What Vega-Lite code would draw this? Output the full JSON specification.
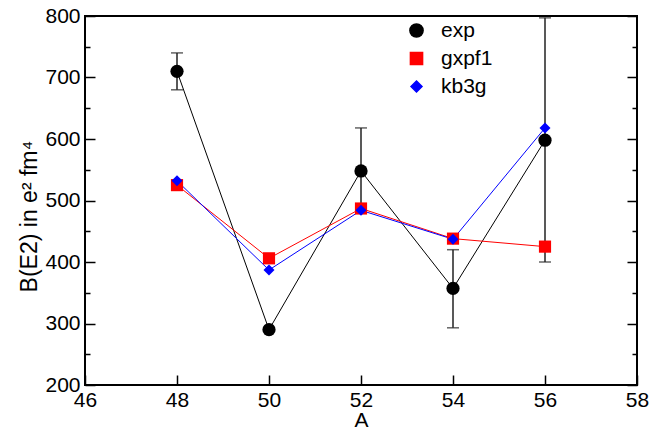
{
  "$schema": "https://vega.github.io/schema/vega-lite/v6.json",
  "autosize": "none",
  "width": 552,
  "height": 369,
  "padding": {"left": 85, "top": 16, "right": 15, "bottom": 47},
  "background": "white",
  "data": {
    "values": [
      {"A": 48, "series": "exp", "value": 710, "lo": 680, "hi": 740},
      {"A": 50, "series": "exp", "value": 290},
      {"A": 52, "series": "exp", "value": 548, "lo": 485, "hi": 618},
      {"A": 54, "series": "exp", "value": 357, "lo": 293, "hi": 420},
      {"A": 56, "series": "exp", "value": 598, "lo": 400, "hi": 797},
      {"A": 48, "series": "gxpf1", "value": 525},
      {"A": 50, "series": "gxpf1", "value": 406},
      {"A": 52, "series": "gxpf1", "value": 487},
      {"A": 54, "series": "gxpf1", "value": 438},
      {"A": 56, "series": "gxpf1", "value": 425},
      {"A": 48, "series": "kb3g", "value": 532},
      {"A": 50, "series": "kb3g", "value": 387},
      {"A": 52, "series": "kb3g", "value": 484},
      {"A": 54, "series": "kb3g", "value": 437},
      {"A": 56, "series": "kb3g", "value": 618}
    ]
  },
  "layer": [
    {
      "transform": [{"filter": "isValid(datum.lo)"}],
      "mark": {"type": "errorbar", "color": "#222", "thickness": 1.5, "ticks": {"size": 12, "thickness": 1.5}},
      "encoding": {
        "x": {"field": "A", "type": "quantitative", "scale": {"domain": [46, 58], "nice": false, "zero": false}},
        "y": {"field": "lo", "type": "quantitative", "scale": {"domain": [200, 800], "nice": false, "zero": false}, "axis": null},
        "y2": {"field": "hi"}
      }
    },
    {
      "mark": {"type": "line", "strokeWidth": 1},
      "encoding": {
        "x": {
          "field": "A", "type": "quantitative",
          "scale": {"domain": [46, 58], "nice": false, "zero": false},
          "axis": {
            "title": "A",
            "titleFontSize": 21,
            "values": [46, 48, 50, 52, 54, 56, 58],
            "labelFlush": false,
            "labelOverlap": false,
            "ticks": true,
            "tickSize": -10,
            "labelPadding": 14,
            "titlePadding": -1,
            "zindex": 1
          }
        },
        "y": {
          "field": "value", "type": "quantitative",
          "scale": {"domain": [200, 800], "nice": false, "zero": false},
          "axis": {
            "title": "B(E2) in e² fm⁴",
            "titleFontSize": 23,
            "orient": "left",
            "values": [200, 300, 400, 500, 600, 700, 800],
            "labelOverlap": false,
            "labelFlush": false,
            "ticks": true,
            "tickSize": -10,
            "labelPadding": 15,
            "titleX": -44,
            "titleY": 200,
            "grid": true,
            "gridColor": "black",
            "gridWidth": 1.5,
            "gridOpacity": 1,
            "gridDash": [0, 542, 10, 1000],
            "zindex": 1
          }
        },
        "color": {
          "field": "series", "type": "nominal",
          "scale": {"domain": ["exp", "gxpf1", "kb3g"], "range": ["black", "red", "blue"]},
          "legend": {
            "title": null,
            "orient": "none",
            "legendX": 321,
            "legendY": 4,
            "padding": 0,
            "symbolSize": 170,
            "labelFont": "Liberation Sans",
            "labelFontSize": 21,
            "labelColor": "black",
            "labelOffset": 14,
            "rowPadding": 6
          }
        }
      }
    },
    {
      "mark": {"type": "point", "filled": true, "opacity": 1},
      "encoding": {
        "x": {"field": "A", "type": "quantitative", "scale": {"domain": [46, 58], "nice": false, "zero": false}},
        "y": {
          "field": "value", "type": "quantitative",
          "scale": {"domain": [200, 800], "nice": false, "zero": false},
          "axis": {
            "orient": "right",
            "title": null,
            "labels": false,
            "ticks": false,
            "values": [250, 350, 450, 550, 650, 750],
            "grid": true,
            "gridColor": "black",
            "gridWidth": 1.5,
            "gridOpacity": 1,
            "gridDash": [5, 542, 5, 1000],
            "zindex": 1
          }
        },
        "color": {"field": "series", "type": "nominal"},
        "shape": {
          "field": "series", "type": "nominal",
          "scale": {"domain": ["exp", "gxpf1", "kb3g"], "range": ["circle", "square", "diamond"]},
          "legend": null
        },
        "size": {
          "field": "series", "type": "nominal",
          "scale": {"domain": ["exp", "gxpf1", "kb3g"], "range": [175, 121, 180]},
          "legend": null
        }
      }
    }
  ],
  "config": {
    "view": {"stroke": "black", "strokeWidth": 2},
    "axis": {
      "labelFont": "Liberation Sans",
      "titleFont": "Liberation Sans",
      "labelFontSize": 21,
      "titleFontSize": 23,
      "titleFontWeight": "normal",
      "labelColor": "black",
      "titleColor": "black",
      "tickColor": "black",
      "tickWidth": 1.5,
      "domain": false,
      "grid": false
    }
  }
}
